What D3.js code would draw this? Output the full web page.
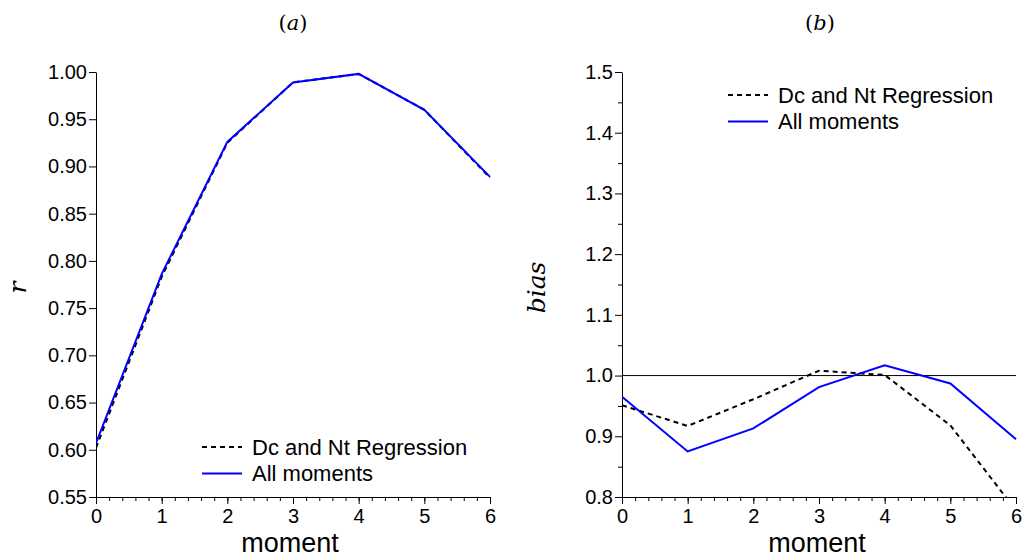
<!DOCTYPE html>
<html>
<head>
<meta charset="utf-8">
<script src="https://cdn.jsdelivr.net/npm/d3@7"></script>
<style>
  body { margin: 0; background: #fff; }
  svg { display: block; }
  .axis path, .axis line { stroke: #000; stroke-width: 1; }
  .axis text { font-family: "Liberation Sans", Arial, sans-serif; font-size: 20px; fill: #000; }
  .lbl { font-family: "Liberation Sans", Arial, sans-serif; fill: #000; }
  .math { font-family: "DejaVu Serif", "Liberation Serif", serif; fill: #000; }
</style>
</head>
<body>
<svg id="chart" width="1026" height="560"></svg>
<script>
// x categories
const moments = [0, 1, 2, 3, 4, 5, 6];

// panel (a): correlation r
const rRegression = [0.602, 0.783, 0.925, 0.989, 0.998, 0.960, 0.888];
const rAllMoments = [0.607, 0.786, 0.926, 0.989, 0.998, 0.960, 0.889];

// panel (b): bias
const biasRegression = [0.951, 0.917, 0.961, 1.008, 1.001, 0.918, 0.778];
const biasAllMoments = [0.965, 0.875, 0.913, 0.981, 1.017, 0.987, 0.895];

const rTicks = [0.55, 0.60, 0.65, 0.70, 0.75, 0.80, 0.85, 0.90, 0.95, 1.00];
const biasTicks = [0.8, 0.9, 1.0, 1.1, 1.2, 1.3, 1.4, 1.5];

const seriesNames = ['Dc and Nt Regression', 'All moments'];

const svg = d3.select('#chart');

function drawPanel(opts) {
  const { left, right, top, bottom } = opts;
  const g = svg.append('g');

  const x = d3.scaleLinear().domain([0, 6]).range([left, right]);
  const y = d3.scaleLinear().domain(opts.yDomain).range([bottom, top]);

  const clipId = 'clip-' + opts.id;
  svg.append('clipPath').attr('id', clipId)
    .append('rect')
      .attr('x', left).attr('y', top - 2)
      .attr('width', right - left + 2).attr('height', bottom - top + 2);

  // minor ticks on x
  g.append('g').attr('class', 'axis')
    .attr('transform', `translate(0,${bottom})`)
    .call(d3.axisBottom(x).tickValues(d3.range(0, 6.01, 0.2)).tickSize(4).tickFormat(''))
    .call(a => a.select('.domain').remove());

  g.append('g').attr('class', 'axis')
    .attr('transform', `translate(0,${bottom})`)
    .call(d3.axisBottom(x).tickValues(moments).tickSize(7).tickSizeOuter(0).tickFormat(d3.format('d')))
    .call(a => a.selectAll('text').attr('y', 12));

  if (opts.yMinor) {
    g.append('g').attr('class', 'axis')
      .attr('transform', `translate(${left},0)`)
      .call(d3.axisLeft(y).tickValues(opts.yMinor).tickSize(4).tickFormat(''))
      .call(a => a.select('.domain').remove());
  }

  g.append('g').attr('class', 'axis')
    .attr('transform', `translate(${left},0)`)
    .call(d3.axisLeft(y).tickValues(opts.yTicks).tickSize(7).tickSizeOuter(0).tickFormat(opts.yFormat))
    .call(a => a.selectAll('text').attr('x', -9));

  if (opts.refLine !== undefined) {
    g.append('line')
      .attr('x1', left).attr('x2', right)
      .attr('y1', y(opts.refLine)).attr('y2', y(opts.refLine))
      .attr('stroke', '#000').attr('stroke-width', 1);
  }

  const line = d3.line().x((d, i) => x(moments[i])).y(d => y(d));

  const plot = g.append('g').attr('clip-path', `url(#${clipId})`);
  plot.append('path')
    .datum(opts.reg)
    .attr('fill', 'none')
    .attr('stroke', '#000')
    .attr('stroke-width', 2)
    .attr('stroke-dasharray', '5,4')
    .attr('d', line);
  plot.append('path')
    .datum(opts.all)
    .attr('fill', 'none')
    .attr('stroke', '#0000ff')
    .attr('stroke-width', 2)
    .attr('d', line);

  // panel title: upright parens, italic letter
  const t = g.append('text').attr('class', 'math')
    .attr('x', opts.titleX).attr('y', 30)
    .attr('text-anchor', 'middle').attr('font-size', 21);
  t.append('tspan').text('(');
  t.append('tspan').style('font-style', 'italic').text(opts.title);
  t.append('tspan').text(')');

  // x label
  g.append('text').attr('class', 'lbl')
    .attr('x', opts.xLabelX).attr('y', 552)
    .attr('text-anchor', 'middle').attr('font-size', 27)
    .text('moment');

  // y label
  g.append('text').attr('class', 'math')
    .attr('transform', `translate(${opts.yLabelX},${(top + bottom) / 2 + 3}) rotate(-90)`)
    .attr('text-anchor', 'middle').attr('font-size', 25)
    .style('font-style', 'italic')
    .text(opts.yLabel);

  // legend
  const lg = g.append('g').attr('transform', `translate(${opts.legendX},${opts.legendY})`);
  const styles = [
    { stroke: '#000', dash: '5,4' },
    { stroke: '#0000ff', dash: null }
  ];
  seriesNames.forEach((name, i) => {
    const row = lg.append('g').attr('transform', `translate(0,${i * 26.5})`);
    row.append('line')
      .attr('x1', 0).attr('x2', 40).attr('y1', 0).attr('y2', 0)
      .attr('stroke', styles[i].stroke).attr('stroke-width', 2)
      .attr('stroke-dasharray', styles[i].dash);
    row.append('text').attr('class', 'lbl')
      .attr('x', 50).attr('y', 7.5).attr('font-size', 22)
      .text(name);
  });
}

drawPanel({
  id: 'a', left: 96, right: 490, top: 72, bottom: 497,
  yDomain: [0.55, 1.0], yTicks: rTicks, yFormat: d3.format('.2f'),
  reg: rRegression, all: rAllMoments,
  title: 'a', titleX: 293, xLabelX: 290, yLabel: 'r', yLabelX: 26,
  legendX: 202, legendY: 447
});

drawPanel({
  id: 'b', left: 622, right: 1016, top: 72, bottom: 497,
  yDomain: [0.8, 1.5], yTicks: biasTicks, yMinor: d3.range(0.85, 1.5, 0.1), yFormat: d3.format('.1f'),
  reg: biasRegression, all: biasAllMoments, refLine: 1.0,
  title: 'b', titleX: 820, xLabelX: 817, yLabel: 'bias', yLabelX: 545,
  legendX: 728, legendY: 95
});
</script>
</body>
</html>
